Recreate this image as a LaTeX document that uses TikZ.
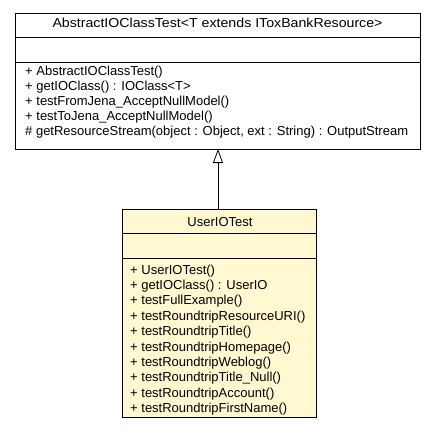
\documentclass[tikz,border=0pt]{standalone}
\usepackage{fontspec}
\setmainfont{Liberation Sans}
\usetikzlibrary{arrows.meta}
\definecolor{classyellow}{HTML}{FFF8D0}
\tikzset{
  boxline/.style={draw=black, line width=1pt},
  member/.style={anchor=base west, inner sep=0pt, font=\fontsize{13}{15}\selectfont},
  title/.style={anchor=base, inner sep=0pt, font=\fontsize{13}{15}\selectfont},
  inherit/.style={draw=black, line width=0.8pt, -{Triangle[open, width=10pt, length=14pt]}}
}
\begin{document}
\begin{tikzpicture}[x=1pt, y=-1pt]
\useasboundingbox (0,0) rectangle (437,437);
% top class
\draw[boxline, fill=white] (15,13) rectangle (420,149);
\draw[boxline] (15,37) -- (420,37);
\draw[boxline] (15,62) -- (420,62);
\node[title] (ttitle) at (217.5,27.5) {\scalebox{1.09}[1]{AbstractIOClassTest<T extends IToxBankResource>}};
\node[member] (t1) at (25,75.5) {+ AbstractIOClassTest()};
\node[member] (t2) at (25,90.5) {+ getIOClass() : IOClass<T>};
\node[member] (t3) at (25,105.5) {+ testFromJena\_AcceptNullModel()};
\node[member] (t4) at (25,120.5) {+ testToJena\_AcceptNullModel()};
\node[member] (t5) at (25,135.5) {\# getResourceStream(object : Object, ext : String) : OutputStream};
\coordinate (topbot) at (218,149);
% bottom class
\draw[boxline, fill=classyellow] (122,209) rectangle (316,417);
\draw[boxline] (122,233) -- (316,233);
\draw[boxline] (122,258) -- (316,258);
\node[title] (btitle) at (220,226) {UserIOTest};
\coordinate (bottop) at (218,209);
\foreach \t [count=\i from 0] in {%
  + UserIOTest(),
  + getIOClass() : UserIO,
  + testFullExample(),
  + testRoundtripResourceURI(),
  + testRoundtripTitle(),
  + testRoundtripHomepage(),
  + testRoundtripWeblog(),
  + testRoundtripTitle\_Null(),
  + testRoundtripAccount(),
  + testRoundtripFirstName()}
  \node[member] (b\i) at (130,274+15.4*\i) {\t};
\draw[inherit] (bottop) -- (topbot);
\end{tikzpicture}
\end{document}
